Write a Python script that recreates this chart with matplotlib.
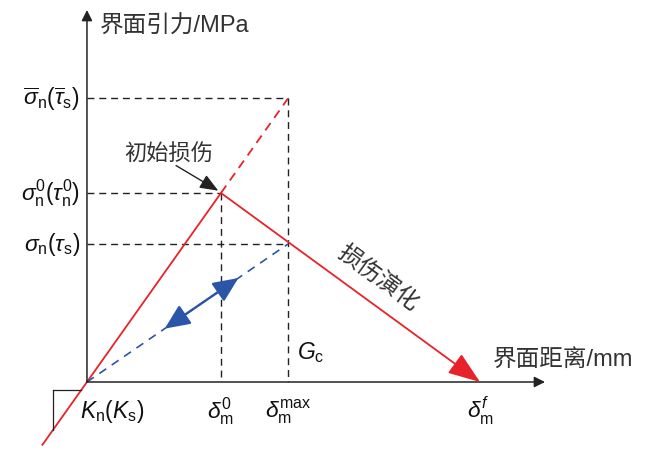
import matplotlib
matplotlib.use("Agg")
import matplotlib.pyplot as plt

plt.rcParams['font.family'] = ['Liberation Sans', 'Noto Sans CJK SC', 'DejaVu Sans']
plt.rcParams['mathtext.fontset'] = 'custom'
plt.rcParams['mathtext.rm'] = 'Liberation Sans'
plt.rcParams['mathtext.it'] = 'Liberation Sans:italic'
plt.rcParams['mathtext.bf'] = 'Liberation Sans:bold'

# Schematic values (normalised units)
delta0 = 1.0        # initial damage separation
delta_max = 1.5     # max separation reached
delta_f = 2.933     # final separation
sigma0 = 1.0        # initial damage traction
sigma_bar = 1.5     # extrapolated traction
sigma_d = 0.73      # damaged traction
x_axis_end = 3.418
y_axis_end = 1.968
x_label = "界面距离/mm"
y_label = "界面引力/MPa"
y_ticks = [sigma_bar, sigma0, sigma_d]
y_tick_labels = [r'$\overline{\sigma}_{\mathrm{n}}(\overline{\tau}_{\mathrm{s}})$',
                 r'$\sigma_{\mathrm{n}}^{0}(\tau_{\mathrm{n}}^{0})$',
                 r'$\sigma_{\mathrm{n}}(\tau_{\mathrm{s}})$']
x_ticks = [delta0, delta_max, delta_f]
x_tick_labels = [r'$\delta_{\mathrm{m}}^{0}$', r'$\delta_{\mathrm{m}}^{\mathrm{max}}$',
                 r'$\delta_{\mathrm{m}}^{f}$']

RED = '#e8222a'
BLUE = '#2b55a8'
DK = '#222222'
TXT = '#333333'
MFS = 16.5
CFS = 17

fig = plt.figure(figsize=(6.53, 4.49), dpi=100)
ax = fig.add_axes([0, 0, 1, 1])
ax.set_xlim(-0.649, 4.224)
ax.set_ylim(-0.3545, 2.021)
ax.axis('off')

# axes with arrows
ax.annotate('', xy=(x_axis_end, 0), xytext=(0, 0),
            arrowprops=dict(arrowstyle='-|>', color=DK, lw=1.1, mutation_scale=16,
                            shrinkA=0, shrinkB=0))
ax.annotate('', xy=(0, y_axis_end), xytext=(0, 0),
            arrowprops=dict(arrowstyle='-|>', color=DK, lw=1.1, mutation_scale=16,
                            shrinkA=0, shrinkB=0))

# black dashed guides
dash_kw = dict(color=DK, lw=1.0, ls=(0, (5, 3.5)))
ax.plot([0, delta_max], [sigma_bar, sigma_bar], **dash_kw)
ax.plot([delta_max, delta_max], [sigma_bar, 0], **dash_kw)
ax.plot([0, delta0], [sigma0, sigma0], **dash_kw)
ax.plot([delta0, delta0], [sigma0, 0], **dash_kw)
ax.plot([0, delta_max], [sigma_d, sigma_d], **dash_kw)

# red loading line
k = sigma0 / delta0
x_low = -0.336
ax.plot([x_low, delta0], [k * x_low, sigma0], color=RED, lw=1.3, solid_capstyle='butt')
ax.plot([delta0, delta_max], [sigma0, k * delta_max], color=RED, lw=1.3, ls=(0, (5, 3.5)))

# red softening line with arrow
ax.annotate('', xy=(delta_f, 0), xytext=(delta0, sigma0),
            arrowprops=dict(arrowstyle='-|>,head_length=0.95,head_width=0.35', color=RED,
                            lw=1.3, mutation_scale=21, shrinkA=0, shrinkB=0))

# blue unloading dashed line
ax.plot([0, delta_max], [0, sigma_d], color=BLUE, lw=1.2, ls=(0, (5, 4)))
kb = sigma_d / delta_max
ax.annotate('', xy=(1.13, kb * 1.13), xytext=(0.58, kb * 0.58),
            arrowprops=dict(arrowstyle='<|-|>,head_length=0.85,head_width=0.38', color=BLUE,
                            lw=1.7, mutation_scale=18, shrinkA=0, shrinkB=0))

# slope triangle
tx = -0.254
ty = -0.042
ax.plot([tx, ty / k], [ty, ty], color=DK, lw=0.9)
ax.plot([tx, tx], [ty, k * tx], color=DK, lw=0.9)

# axis labels
ax.text(0.10, 1.88, y_label, fontsize=CFS, color=TXT, ha='left', va='center')
ax.text(3.03, 0.11, x_label, fontsize=CFS, color=TXT, ha='left', va='center')

# y tick labels
for v, s in zip(y_ticks, y_tick_labels):
    ax.text(-0.052, v, s, fontsize=MFS, color='#111111', ha='right', va='center')

# x tick labels
for v, s in zip(x_ticks, x_tick_labels):
    ax.text(v, -0.155, s, fontsize=MFS, color='#111111', ha='center', va='center')

ax.text(-0.05, -0.155, r'$K_{\mathrm{n}}(K_{\mathrm{s}})$', fontsize=MFS, color='#111111',
        ha='left', va='center')
ax.text(1.565, 0.155, r'$G_{\mathrm{c}}$', fontsize=MFS, color='#111111', ha='left', va='center')

# annotations
ax.text(0.61, 1.2, '初始损伤', fontsize=16, color=TXT, ha='center', va='center')
ax.annotate('', xy=(delta0 - 0.02, sigma0 + 0.012), xytext=(0.665, 1.145),
            arrowprops=dict(arrowstyle='-|>,head_length=0.7,head_width=0.28', color=DK,
                            lw=1.0, mutation_scale=16, shrinkA=0, shrinkB=0))
ax.text(2.17, 0.545, '损伤演化', fontsize=CFS, color=TXT, rotation=-36.1,
        rotation_mode='anchor', ha='center', va='center')

fig.savefig('out.png', dpi=100)
